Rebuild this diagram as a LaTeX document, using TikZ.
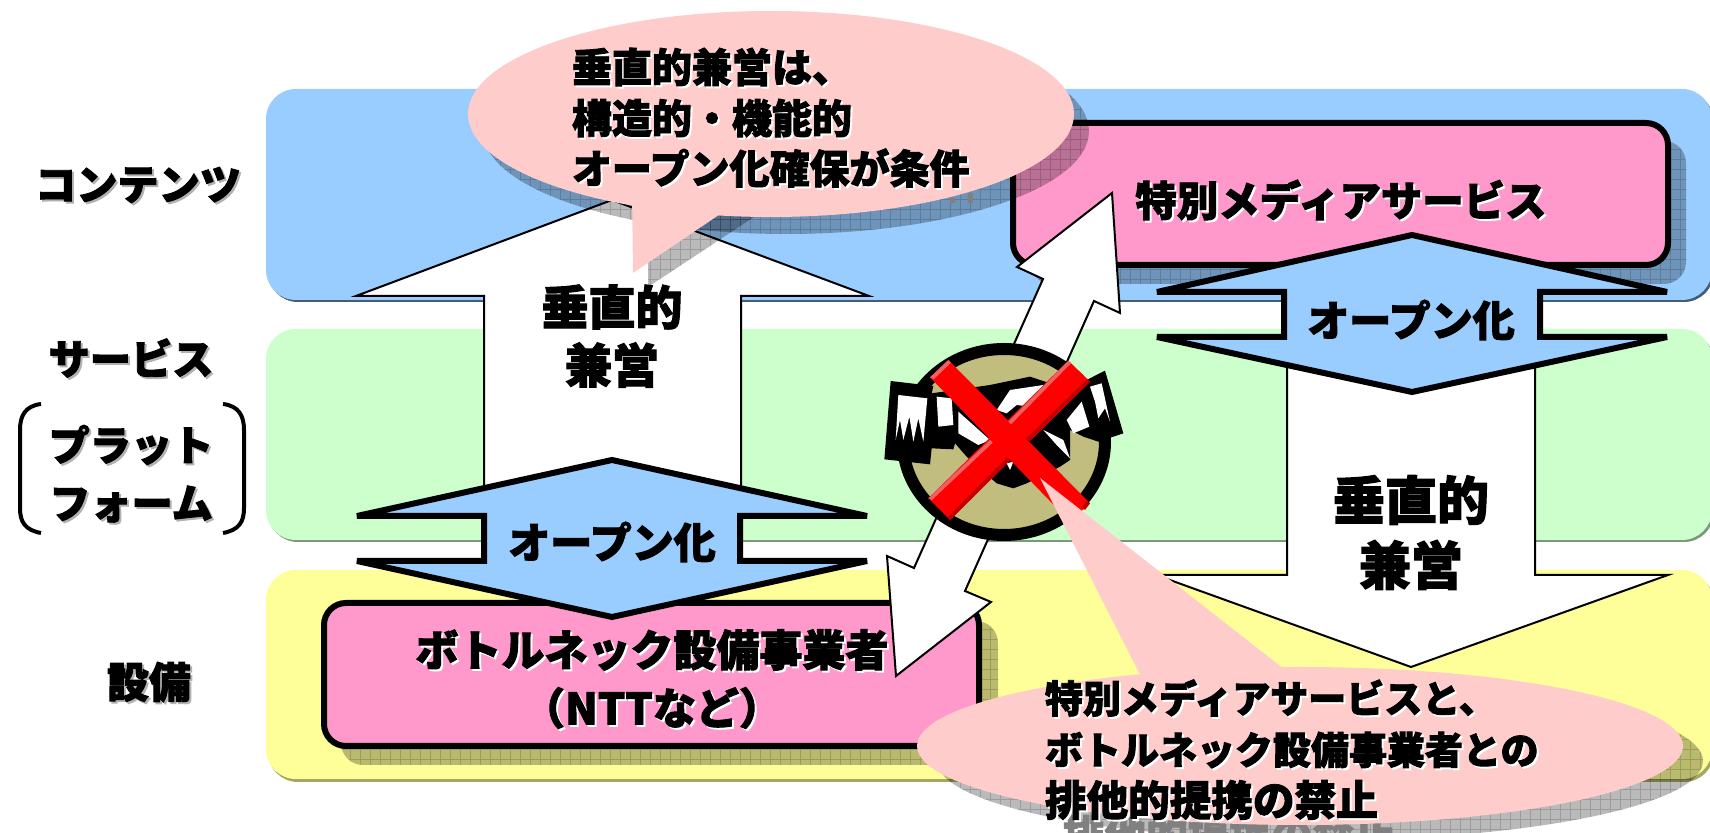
\documentclass[tikz,border=0pt]{standalone}
\usepackage{fontspec}
\setmainfont{Noto Sans CJK JP}[BoldFeatures={FakeBold=2.2}]
\definecolor{bandblue}{HTML}{99CCFF}
\definecolor{bandgreen}{HTML}{CCFFCC}
\definecolor{bandyellow}{HTML}{FFFF99}
\definecolor{boxpink}{HTML}{FF99CC}
\definecolor{callpink}{HTML}{FFCCCC}
\definecolor{tan}{HTML}{C0BD7F}
\definecolor{xlight}{HTML}{F06060}
\definecolor{xdark}{HTML}{C00000}
\newcommand\fs[1]{\fontsize{#1}{#1}\selectfont\bfseries}
% text with an offset shadow: name, position, shadow colour, anchor, size, text
\newcommand\lbl[6]{%
  \node[txt,anchor=#4,text=#3,xshift=1pt,yshift=-1pt] (#1s) at (#2) {\fs{#5}#6};
  \node[txt,anchor=#4] (#1) at (#2) {\fs{#5}#6};}
\newcommand\hatched[1]{%
  \fill[black,opacity=.27] #1;
  \begin{scope}\clip #1;
    \draw[black,opacity=.16,line width=.5pt,step=5pt] (0,0) grid (1710,840);
  \end{scope}}
\tikzset{
  txt/.style={inner sep=0pt,outer sep=0pt},
  bandbox/.style={rounded corners=15pt},
  pinkbox/.style={draw=black,fill=boxpink,line width=3pt,rounded corners=11pt},
  bigarrow/.style={draw=black,fill=white,line width=1pt,line join=miter},
  openarrow/.style={draw=black,fill=bandblue,line width=3pt,line join=miter,miter limit=1.5},
  callout/.style={fill=callpink},
}
\begin{document}
\begin{tikzpicture}[x=.5pt,y=-.5pt]
\useasboundingbox (0,0) rectangle (1710,833);
\fill[white] (0,0) rectangle (1710,833);
% bands
\fill[bandbox,fill=black!55!bandblue] (268,92) rectangle (1714,302);
\fill[bandbox,fill=bandblue] (266,89) rectangle (1712,300);
\fill[bandbox,fill=black!40!bandgreen] (268,332) rectangle (1714,542);
\fill[bandbox,fill=bandgreen] (266,329) rectangle (1712,540);
\fill[bandbox,fill=black!35!bandyellow] (268,573) rectangle (1714,782);
\fill[bandbox,fill=bandyellow] (266,570) rectangle (1712,779);
% pink boxes with shadows
\hatched{(1030,141) [rounded corners=11pt] rectangle (1686,284)}
\hatched{(341,621) [rounded corners=11pt] rectangle (998,765)}
\draw[pinkbox] (1013,123) rectangle (1668,265);
\draw[pinkbox] (324,603) rectangle (979,746);
% white arrows
\draw[bigarrow] (612,200) -- (869,296) -- (741,296) -- (741,500) -- (484,500) -- (484,296) -- (356,296) -- cycle;
\draw[bigarrow] (1411,667) -- (1668,575) -- (1535,575) -- (1535,360) -- (1287,360) -- (1287,575) -- (1156,575) -- cycle;
% open arrows
\draw[openarrow] (612,460) -- (867,516) -- (740,516) -- (740,561) -- (867,561) -- (612,617) -- (357,561) -- (484,561) -- (484,516) -- (357,516) -- cycle;
\draw[openarrow] (1412,235) -- (1667,292) -- (1540,292) -- (1540,337) -- (1667,337) -- (1412,392) -- (1157,337) -- (1284,337) -- (1284,292) -- (1157,292) -- cycle;
% diagonal arrow
\draw[bigarrow] (1112,193) -- (1120,313) -- (1094,301) -- (965,591) -- (991,602) -- (896,676) -- (887,556) -- (914,568) -- (1043,279) -- (1017,267) -- cycle;
% handshake clip art
\draw[black,fill=tan,line width=6pt] (1004,442) ellipse [x radius=101,y radius=93];
\begin{scope}[shift={(850,330)},x=.16667pt,y=-.16667pt]
  \fill[black] (122,153) -- (250,168) -- (245,190) -- (420,165) -- (540,140) -- (600,160) -- (690,160) -- (765,122) -- (820,310) -- (745,335) -- (700,320) -- (660,300) -- (660,390) -- (630,410) -- (530,460) -- (490,475) -- (440,460) -- (350,380) -- (315,340) -- (310,358) -- (245,355) -- (240,403) -- (103,388) -- cycle;
  \fill[white] (145,195) -- (232,205) -- (220,335) -- (205,265) -- (190,335) -- (178,260) -- (160,330) -- (150,270) -- (137,330) -- cycle;
  \fill[white] (720,170) -- (755,160) -- (780,275) -- (765,235) -- (745,265) -- (735,215) -- cycle;
  \fill[white] (260,200) -- (305,205) -- (310,285) -- (265,290) -- cycle;
  \fill[white] (325,245) -- (420,330) -- (385,345) -- (325,310) -- cycle;
  \fill[white] (650,270) -- (695,215) -- (718,290) -- (670,310) -- cycle;
  \fill[white] (440,240) -- (480,180) -- (580,165) -- (600,200) -- (540,230) -- (500,225) -- (470,250) -- cycle;
  \fill[white] (580,300) -- (640,330) -- (660,385) -- (620,345) -- cycle;
  \fill[white] (470,400) -- (490,395) -- (480,420) -- cycle;
  % red cross
  \fill[red] (240,142) -- (295,90) -- (720,520) -- (660,575) -- cycle;
  \fill[red] (235,505) -- (300,570) -- (720,155) -- (655,92) -- cycle;
  \fill[xlight] (240,142) -- (295,90) -- (303,98) -- (251,148) -- cycle;
  \fill[xlight] (235,505) -- (420,330) -- (428,338) -- (246,510) -- cycle;
  \fill[xlight] (475,275) -- (655,92) -- (663,100) -- (483,283) -- cycle;
  \fill[xdark] (300,570) -- (480,390) -- (472,382) -- (292,562) -- cycle;
  \fill[xdark] (535,335) -- (720,155) -- (712,147) -- (527,327) -- cycle;
  \fill[xdark] (705,540) -- (720,520) -- (711,511) -- (696,531) -- cycle;
\end{scope}
% callout 1
\hatched{(786,131) ellipse [x radius=303,y radius=103]}
\hatched{(648,200) -- (648,287) -- (757,215) -- cycle}
\fill[gray] (950,198) rectangle (955,203);
\fill[gray] (968,193) rectangle (973,203);
\path[callout] (632,190) -- (633,273) -- (741,200) -- cycle;
\path[callout] (771,114) ellipse [x radius=303,y radius=103];
% callout 2
\hatched{(1320,761) ellipse [x radius=383,y radius=79]}
\node[txt,anchor=west,text=black!50] (sh3) at (1063,835) {\fs{20.8}排他的提携の禁止};
\path[callout] (1153,700) -- (1040,478) -- (1298,680) -- cycle;
\path[callout] (1300,746) ellipse [x radius=383,y radius=79];
% band labels
\lbl{contents}{138,185}{black!30}{center}{20.6}{コンテンツ}
\lbl{service}{131,358}{black!30}{center}{20.6}{サービス}
\lbl{plat}{131,445}{black!30}{center}{20.6}{プラット}
\lbl{form}{131,504}{black!30}{center}{20.6}{フォーム}
\lbl{equip}{149,682}{black!30}{center}{21}{設備}
% brackets
\draw[line width=2pt,line cap=butt] (41,404) .. controls (25,406) and (20,416) .. (20,430) -- (20,508) .. controls (20,522) and (25,530) .. (41,533);
\draw[line width=2pt,line cap=butt] (223,404) .. controls (239,406) and (244,416) .. (244,430) -- (244,508) .. controls (244,522) and (239,530) .. (223,533);
% texts
\lbl{c1a}{572,67}{white}{west}{20}{垂直的兼営は、}
\lbl{c1b}{572,118}{white}{west}{20}{構造的・機能的}
\lbl{c1c}{572,168}{white}{west}{20}{オープン化確保が条件}
\lbl{c2a}{1045,698}{white}{west}{19}{特別メディアサービスと、}
\lbl{c2b}{1045,750}{white}{west}{19}{ボトルネック設備事業者との}
\lbl{c2c}{1045,800}{white}{west}{20.8}{排他的提携の禁止}
\lbl{media}{1341,200}{white}{center}{20.7}{特別メディアサービス}
\lbl{neck}{652,650}{white}{center}{21.5}{ボトルネック設備事業者}
\lbl{ntt}{652,708}{white}{center}{21.5}{（NTTなど）}
\node[txt] (openL) at (612,542) {\fs{21}オープン化};
\node[txt] (openR) at (1411,320) {\fs{21}オープン化};
\node[txt] (vL1) at (612,307) {\fs{23.5}垂直的};
\node[txt] (vL2) at (612,365) {\fs{23.5}兼営};
\node[txt] (vR1) at (1411,500) {\fs{26}垂直的};
\node[txt] (vR2) at (1411,565) {\fs{26}兼営};
\end{tikzpicture}
\end{document}
